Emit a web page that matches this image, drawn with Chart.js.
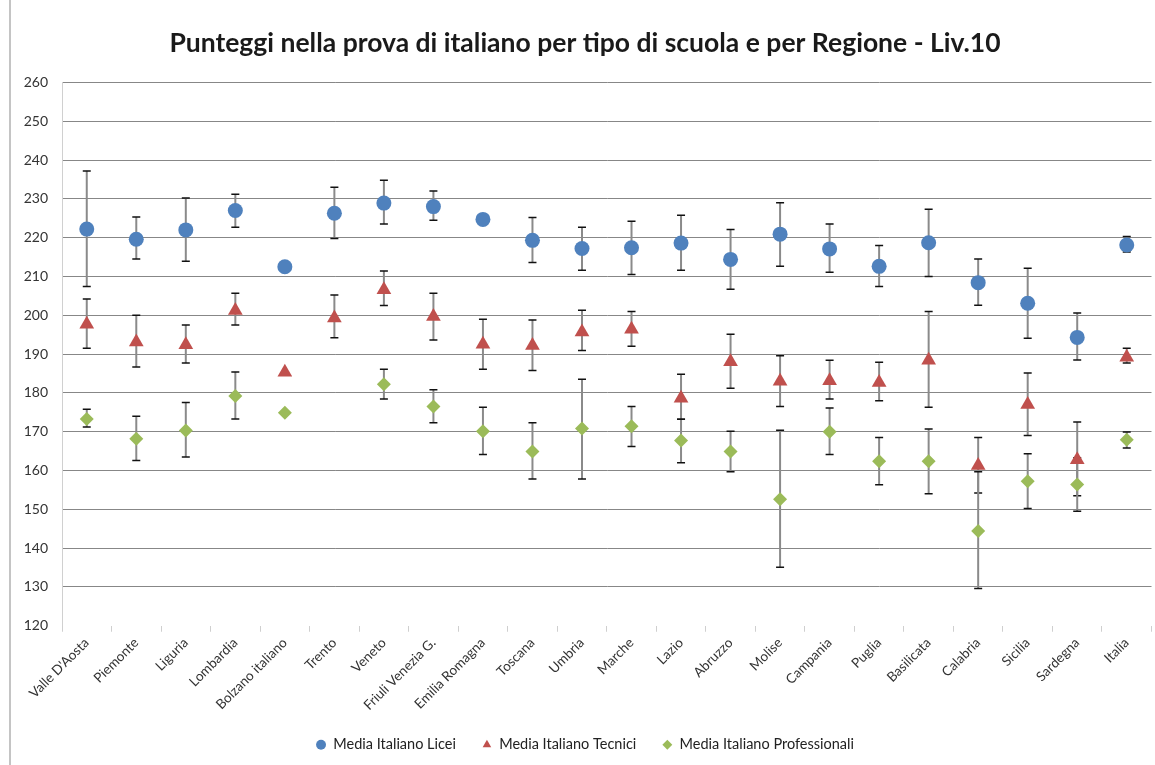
<!DOCTYPE html>
<html>
<head>
<meta charset="utf-8">
<script src="https://cdn.jsdelivr.net/npm/chart.js@4.4.1/dist/chart.umd.min.js"></script>
<style>
  html, body { margin: 0; padding: 0; background: #fff; overflow: hidden; }
  #wrap { position: relative; width: 1155px; height: 765px; overflow: hidden; }
  #edge { position: absolute; left: 9px; top: 0; width: 0; height: 765px; border-left: 2px solid #c4c4c4; }
  #chart { position: absolute; left: 0; top: 0; }
</style>
</head>
<body>
<div id="wrap">
  <div id="edge"></div>
  <canvas id="chart" width="1160" height="765"></canvas>
</div>
<script>
// -------- Data ----------
const regions = ["Valle D'Aosta", "Piemonte", "Liguria", "Lombardia", "Bolzano italiano", "Trento", "Veneto",
  "Friuli Venezia G.", "Emilia Romagna", "Toscana", "Umbria", "Marche", "Lazio", "Abruzzo", "Molise",
  "Campania", "Puglia", "Basilicata", "Calabria", "Sicilia", "Sardegna", "Italia"];

const liceiMean = [222.2, 219.6, 222.0, 227.0, 212.5, 226.3, 228.9, 228.0, 224.7, 219.3, 217.2, 217.4, 218.6, 214.4, 220.9, 217.1, 212.6, 218.7, 208.4, 203.1, 194.3, 218.1];
const liceiLow  = [207.4, 214.5, 213.9, 222.7, null, 219.8, 223.5, 224.5, null, 213.6, 211.6, 210.5, 211.6, 206.7, 212.6, 211.1, 207.4, 210.0, 202.6, 194.1, 188.5, 216.3];
const liceiHigh = [237.2, 225.3, 230.2, 231.2, null, 233.0, 234.8, 232.0, null, 225.2, 222.7, 224.2, 225.8, 222.1, 229.0, 223.5, 218.0, 227.3, 214.5, 212.1, 200.6, 220.3];

const tecniciMean = [197.7, 193.1, 192.4, 201.2, 185.3, 199.3, 206.6, 199.7, 192.5, 192.2, 195.7, 196.4, 178.6, 188.0, 183.0, 183.1, 182.7, 188.4, 161.3, 177.0, 162.8, 189.2];
const tecniciLow  = [191.5, 186.7, 187.7, 197.5, null, 194.2, 202.5, 193.6, 186.1, 185.8, 190.9, 192.0, 173.2, 181.2, 176.5, 178.4, 178.0, 176.3, 154.2, 169.0, 153.5, 187.7];
const tecniciHigh = [204.2, 200.0, 197.5, 205.7, null, 205.2, 211.4, 205.7, 199.0, 198.8, 201.3, 201.0, 184.8, 195.1, 189.6, 188.4, 187.9, 201.0, 168.5, 185.1, 172.5, 191.5];

const profMean = [173.3, 168.2, 170.3, 179.2, 174.9, null, 182.2, 176.5, 170.1, 164.9, 170.8, 171.4, 167.7, 164.9, 152.6, 170.0, 162.4, 162.4, 144.4, 157.2, 156.4, 167.9];
const profLow  = [171.2, 162.6, 163.5, 173.3, null, null, 178.4, 172.3, 164.1, 157.8, 157.8, 166.2, 162.0, 159.7, 135.1, 164.1, 156.3, 154.0, 129.6, 150.2, 149.5, 165.8];
const profHigh = [175.8, 174.0, 177.5, 185.4, null, null, 186.1, 180.8, 176.3, 172.3, 183.5, 176.5, 173.2, 170.1, 170.4, 176.1, 168.5, 170.7, 159.7, 164.3, 163.3, 169.9];

const yMin = 120, yMax = 260, yStep = 10;

// -------- Error bars ----------
const errorBars = {
  id: "errorBars",
  beforeDatasetsDraw(chart) {
    const { ctx, scales: { x, y } } = chart;
    ctx.save();
    chart.data.datasets.forEach(ds => {
      ds.values.forEach((v, i) => {
        const lo = ds.low[i], hi = ds.high[i];
        if (v == null || lo == null || hi == null) return;
        const px = x.getPixelForValue(i);
        const yLo = y.getPixelForValue(lo), yHi = y.getPixelForValue(hi);
        ctx.strokeStyle = "#8a8a8a";
        ctx.lineWidth = 2;
        ctx.beginPath();
        ctx.moveTo(px, yLo);
        ctx.lineTo(px, yHi);
        ctx.stroke();
        ctx.strokeStyle = "#111";
        ctx.lineWidth = 1.5;
        ctx.beginPath();
        ctx.moveTo(px - 4, yLo); ctx.lineTo(px + 4, yLo);
        ctx.moveTo(px - 4, yHi); ctx.lineTo(px + 4, yHi);
        ctx.stroke();
      });
    });
    ctx.restore();
  }
};

const series = (label, values, low, high, color, pointStyle, radius) => ({
  label, values, low, high,
  data: values,
  showLine: false,
  pointStyle,
  pointRadius: radius,
  pointHoverRadius: radius,
  backgroundColor: color,
  borderColor: color,
  borderWidth: 0
});

new Chart(document.getElementById("chart"), {
  type: "line",
  data: {
    labels: regions,
    datasets: [
      series("Media Italiano Licei", liceiMean, liceiLow, liceiHigh, "#4F81BD", "circle", 7.5),
      series("Media Italiano Tecnici", tecniciMean, tecniciLow, tecniciHigh, "#C0504D", "triangle", 8.5),
      series("Media Italiano Professionali", profMean, profLow, profHigh, "#9BBB59", "rectRot", 7)
    ]
  },
  options: {
    responsive: false,
    animation: false,
    layout: { padding: { left: 10, right: 0, top: 0, bottom: 3 } },
    plugins: {
      title: {
        display: true,
        text: "Punteggi nella prova di italiano per tipo di scuola e per Regione - Liv.10",
        color: "#1a1a1a",
        font: { family: "Lato", size: 26.5, weight: "bold" },
        padding: { top: 28, bottom: 22.6 }
      },
      legend: {
        position: "bottom",
        labels: {
          usePointStyle: true,
          boxWidth: 10,
          boxHeight: 7,
          padding: 26,
          color: "#222",
          font: { family: "Lato", size: 14.5 }
        }
      },
      tooltip: { enabled: false }
    },
    scales: {
      y: {
        min: yMin, max: yMax,
        ticks: { stepSize: yStep, color: "#333", font: { family: "Lato", size: 14 }, padding: 14 },
        grid: { color: c => c.tick.value === yMin ? "rgba(0,0,0,0)" : "#878787", drawTicks: false },
        border: { color: "#d0d0d0" },
        afterFit: s => { s.width = 52; }
      },
      x: {
        offset: true,
        ticks: { minRotation: 45, maxRotation: 45, autoSkip: false, color: "#333", font: { family: "Lato", size: 13.5 } },
        grid: { offset: true, drawOnChartArea: false, drawTicks: true, tickLength: 6, color: "#cfcfcf" },
        border: { display: false },
        afterFit: s => { s.height = 85.75; }
      }
    }
  },
  plugins: [errorBars]
});
</script>
</body>
</html>
